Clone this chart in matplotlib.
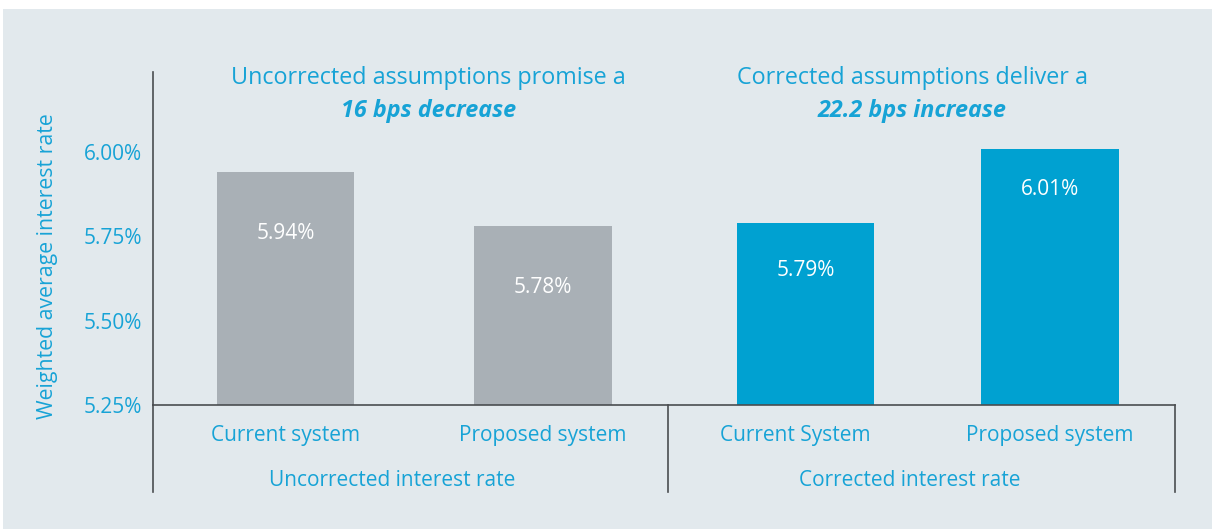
import matplotlib
matplotlib.use("Agg")
import matplotlib.pyplot as plt
from matplotlib.patches import Rectangle
from matplotlib.lines import Line2D

categories = ["Current system", "Proposed system", "Current System", "Proposed system"]
groups = ["Uncorrected interest rate", "Corrected interest rate"]
values = [5.94, 5.78, 5.79, 6.01]
value_labels = ["5.94%", "5.78%", "5.79%", "6.01%"]
yticks = [5.25, 5.50, 5.75, 6.00]
ytick_labels = ["5.25%", "5.50%", "5.75%", "6.00%"]
titles_line1 = ["Uncorrected assumptions promise a", "Corrected assumptions deliver a"]
titles_line2 = ["16 bps decrease", "22.2 bps increase"]

BG = "#e2e9ed"
GREY = "#a9b0b6"
BLUE = "#00a1d1"
TXT = "#17a3d6"
LINE = "#4a4d50"

plt.rcParams['font.family'] = ['Open Sans', 'DejaVu Sans']

fig = plt.figure(figsize=(12.12, 5.29), dpi=100, facecolor="white")
fig.patches.append(Rectangle((3/1212, 0), 1, 1 - 9/529, transform=fig.transFigure,
                             facecolor=BG, edgecolor="none", zorder=-10))
ax = fig.add_axes([153/1212, 1 - 405/529, (1175-153)/1212, (405-72)/529])
ax.set_facecolor("none")

x = [0, 1.01, 2.04, 3.0]
label_offsets = [0.18, 0.18, 0.14, 0.12]
colors = [GREY, GREY, BLUE, BLUE]
ax.bar(x, [v - 5.25 for v in values], bottom=5.25, width=0.54, color=colors, zorder=2)
for xi, v, lab, off in zip(x, values, value_labels, label_offsets):
    ax.text(xi, v - off, lab, ha="center", va="center", color="white", fontsize=15)

ax.set_xlim(-0.52, 3.49)
ax.set_ylim(5.25, 5.25 + 333/337)
ax.set_yticks(yticks)
ax.set_yticklabels(ytick_labels)
ax.tick_params(axis="y", length=0, pad=8, labelsize=15, labelcolor=TXT)
ax.set_xticks([])
for s in ["top", "right"]:
    ax.spines[s].set_visible(False)
ax.spines["left"].set_color(LINE)
ax.spines["bottom"].set_color(LINE)
ax.spines["left"].set_linewidth(1.2)
ax.spines["bottom"].set_linewidth(1.2)

# extend group separators below axis
trans = ax.get_xaxis_transform()
ext = -(492 - 405) / (405 - 72)
for xd in [-0.52, 1.5, 3.49]:
    ax.add_line(Line2D([xd, xd], [0, ext], transform=trans, color=LINE, lw=1.2, clip_on=False))

cat_shift = [0, 0, -0.04, 0]
for xi, c, sh in zip(x, categories, cat_shift):
    ax.text(xi + sh, -(436 - 405) / (405 - 72), c, transform=trans, ha="center", va="center",
            color=TXT, fontsize=15)
for gx, g in zip([0.42, 2.45], groups):
    ax.text(gx, -(481 - 405) / (405 - 72), g, transform=trans, ha="center", va="center",
            color=TXT, fontsize=15)

for tx, l1, l2 in zip([0.56, 2.46], titles_line1, titles_line2):
    ax.text(tx, 5.25 + (405 - 78) / 337, l1, ha="center", va="center", color=TXT, fontsize=16.8)
    ax.text(tx, 5.25 + (405 - 111) / 337, l2, ha="center", va="center", color=TXT,
            fontsize=16.8, fontweight="bold", fontstyle="italic")

fig.text(48/1212, 1 - 266/529, "Weighted average interest rate", rotation=90,
         ha="center", va="center", color=TXT, fontsize=15.3)

fig.savefig("out.png", dpi=100, facecolor="white")
